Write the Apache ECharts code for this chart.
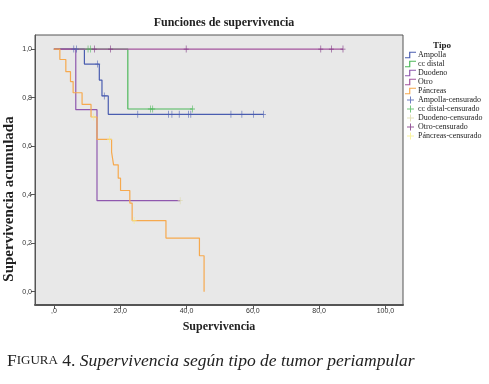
<!DOCTYPE html>
<html>
<head>
<meta charset="utf-8">
<script src="https://cdn.jsdelivr.net/npm/echarts@6/dist/echarts.min.js"></script>
<style>
  html, body { margin: 0; padding: 0; background: #fff; }
  #chart { width: 489px; height: 384px; }
</style>
</head>
<body>
<div id="chart"></div>
<script>
// Kaplan-Meier curves: event times and survival after each step
const groups = ['Ampolla', 'cc distal', 'Duodeno', 'Otro', 'Páncreas'];
const colors = ['#4A5DB0', '#4DB85A', '#8F58AE', '#A4559E', '#F6A94E'];
const censorColors = ['#4A5DB0', '#4DB85A', '#DCD8A8', '#7C2F80', '#F8F08A'];

const ampollaTime = [0, 9.2, 13.7, 14.5, 16.4, 63.2];
const ampollaSurv = [1, 0.938, 0.872, 0.807, 0.731, 0.731];
const ampollaCensor = [6.0, 6.8, 13.2, 15.2, 25.3, 34.6, 35.6, 37.8, 40.6, 41.3, 53.4, 56.7, 60.2, 63.2];

const distalTime = [0, 22.3, 41.8];
const distalSurv = [1, 0.753, 0.753];
const distalCensor = [10.3, 11.0, 29.1, 29.8, 41.8];

const duodenoTime = [0, 6.6, 13.0, 38.1];
const duodenoSurv = [1, 0.75, 0.375, 0.375];
const duodenoCensor = [38.1];

const otroTime = [0, 87.2];
const otroSurv = [1, 1];
const otroCensor = [12.2, 17.1, 39.9, 80.5, 83.7, 87.2];

const pancreasTime = [0, 1.8, 3.6, 5.0, 5.8, 8.5, 11.2, 13.0, 17.4, 18.0, 19.4, 20.1, 22.9, 23.6, 33.8, 43.9, 45.3];
const pancreasSurv = [1, 0.957, 0.907, 0.866, 0.82, 0.772, 0.72, 0.628, 0.575, 0.523, 0.468, 0.417, 0.365, 0.293, 0.221, 0.148, 0];
const pancreasCensor = [12.0, 16.8, 24.2];

const xTicks = [0, 20, 40, 60, 80, 100];
const yTicks = [0, 0.2, 0.4, 0.6, 0.8, 1.0];

const times = [ampollaTime, distalTime, duodenoTime, otroTime, pancreasTime];
const survs = [ampollaSurv, distalSurv, duodenoSurv, otroSurv, pancreasSurv];
const censors = [ampollaCensor, distalCensor, duodenoCensor, otroCensor, pancreasCensor];

// survival level of a curve at time t (last step at or before t)
function survAt(g, t) {
  let s = 1;
  times[g].forEach((tt, i) => { if (tt <= t + 1e-9) s = survs[g][i]; });
  return s;
}

const plusIcon = 'path://M4.3,0h1.4v10h-1.4z M0,4.4h10v1.2h-10z';
const stepIcon = 'path://M0,9h4.5v-6h7.5v1.3h-6.2v6h-5.8z';

let series = [];
groups.forEach((g, i) => {
  series.push({
    name: g,
    type: 'line',
    step: 'end',
    symbol: 'none',
    data: times[i].map((t, k) => [t, survs[i][k]]),
    lineStyle: { color: colors[i], width: 1.2 },
    itemStyle: { color: colors[i] },
    z: 2 + i
  });
});
groups.forEach((g, i) => {
  series.push({
    name: g + '-censurado',
    type: 'scatter',
    symbol: plusIcon,
    symbolSize: [5, 7],
    data: censors[i].map(t => [t, survAt(i, t)]),
    itemStyle: { color: censorColors[i] },
    z: 10
  });
});

const legendData = groups.map(g => ({ name: g, icon: stepIcon }))
  .concat(groups.map(g => ({ name: g + '-censurado', icon: plusIcon })));

const chart = echarts.init(document.getElementById('chart'));
chart.setOption({
  animation: false,
  backgroundColor: '#fff',
  title: [
    {
      text: 'Funciones de supervivencia',
      left: 219, top: 12, textAlign: 'center',
      textStyle: { fontFamily: 'Liberation Serif', fontWeight: 'bold', fontSize: 12, color: '#222' }
    },
    {
      text: 'Tipo',
      left: 437, top: 36, textAlign: 'center',
      textStyle: { fontFamily: 'Liberation Serif', fontWeight: 'bold', fontSize: 9, color: '#222' }
    }
  ],
  legend: {
    orient: 'vertical',
    left: 405, top: 51,
    padding: 0,
    itemWidth: 11, itemHeight: 7,
    itemGap: 1,
    selectedMode: false,
    data: legendData,
    textStyle: { fontFamily: 'Liberation Serif', fontSize: 8, lineHeight: 7, color: '#222', padding: [0, 0, 0, -3] }
  },
  grid: {
    left: 35, top: 35, right: 86, bottom: 79,
    show: true,
    backgroundColor: '#E8E8E8',
    borderColor: '#555',
    borderWidth: 1
  },
  xAxis: {
    type: 'value',
    min: -5.7, max: 105.3,
    name: 'Supervivencia',
    nameLocation: 'middle',
    nameGap: 16,
    nameTextStyle: { fontFamily: 'Liberation Serif', fontWeight: 'bold', fontSize: 12, color: '#222' },
    axisLine: { show: true, onZero: false, lineStyle: { color: '#555', width: 2 } },
    axisTick: { show: true, length: 4, customValues: xTicks, lineStyle: { color: '#555' } },
    axisLabel: {
      customValues: xTicks,
      fontSize: 7, color: '#333', margin: 3, fontFamily: 'Liberation Sans',
      formatter: v => v === 0 ? ',0' : v.toFixed(1).replace('.', ',')
    },
    splitLine: { show: false }
  },
  yAxis: {
    type: 'value',
    min: -0.055, max: 1.058,
    axisLine: { show: true, onZero: false, lineStyle: { color: '#555', width: 1 } },
    axisTick: { show: true, length: 4, customValues: yTicks, lineStyle: { color: '#555' } },
    axisLabel: {
      customValues: yTicks,
      fontSize: 7, color: '#333', margin: 3, fontFamily: 'Liberation Sans',
      formatter: v => v.toFixed(1).replace('.', ',')
    },
    splitLine: { show: false }
  },
  graphic: [
    {
      type: 'text',
      x: 9, y: 199,
      rotation: Math.PI / 2,
      style: {
        text: 'Supervivencia acumulada',
        fontFamily: 'Liberation Serif', fontWeight: 'bold', fontSize: 15,
        fill: '#222', align: 'center', verticalAlign: 'middle'
      }
    },
    {
      type: 'text',
      x: 7, y: 361,
      style: {
        text: '{c|F}{s|IGURA}{c| 4. }{i|Supervivencia según tipo de tumor periampular}',
        verticalAlign: 'middle',
        rich: {
          c: { fontFamily: 'Liberation Serif', fontSize: 17.5, fill: '#222' },
          s: { fontFamily: 'Liberation Serif', fontSize: 13, fill: '#222' },
          i: { fontFamily: 'Liberation Serif', fontStyle: 'italic', fontSize: 17.5, fill: '#222' }
        }
      }
    }
  ],
  series: series
});
</script>
</body>
</html>
